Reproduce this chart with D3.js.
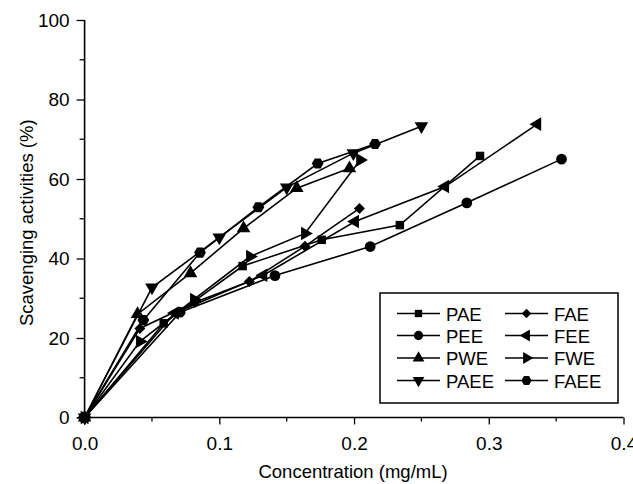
<!DOCTYPE html>
<html>
<head>
<meta charset="utf-8">
<script src="https://cdn.jsdelivr.net/npm/d3@7"></script>
<style>
  body { margin: 0; background: #fff; }
  text { font-family: "Liberation Sans", Arial, sans-serif; fill: #000; }
</style>
</head>
<body>
<script>
// data: [concentration mg/mL, scavenging %]
var PAE  = [[0,0],[0.0587,23.7],[0.1173,38.1],[0.176,44.7],[0.234,48.4],[0.2935,65.8]];
var PEE  = [[0,0],[0.0709,26.5],[0.1413,35.7],[0.212,43.0],[0.2837,54.0],[0.354,65.0]];
var PWE  = [[0,0],[0.0393,26.0],[0.0786,36.3],[0.118,47.6],[0.1575,57.7],[0.1966,62.7]];
var PAEE = [[0,0],[0.05,32.7],[0.1,45.3],[0.15,57.9],[0.1995,66.5],[0.25,73.3]];
var FAE  = [[0,0],[0.041,22.4],[0.082,29.0],[0.1223,34.2],[0.1636,43.1],[0.204,52.6]];
var FEE  = [[0,0],[0.067,26.3],[0.1327,35.8],[0.2007,49.3],[0.2676,58.1],[0.336,73.8]];
var FWE  = [[0,0],[0.041,19.1],[0.0812,29.7],[0.1228,40.5],[0.1636,46.3],[0.2045,64.8]];
var FAEE = [[0,0],[0.0436,24.5],[0.0857,41.5],[0.129,52.9],[0.173,63.9],[0.2156,68.8]];

var names = ['PAE','PEE','PWE','PAEE','FAE','FEE','FWE','FAEE'];
var seriesData = [PAE, PEE, PWE, PAEE, FAE, FEE, FWE, FAEE];
var xTicks = [0, 0.1, 0.2, 0.3, 0.4];
var yTicks = [0, 20, 40, 60, 80, 100];

var W = 633, H = 484;
var svg = d3.select('body').append('svg')
    .attr('width', W)
    .attr('height', H);

var x = d3.scaleLinear().domain([0, 0.4]).range([84.6, 623.5]);
var y = d3.scaleLinear().domain([0, 100]).range([417.5, 20]);

// marker shapes
var hexagon = {
  draw: function(ctx, size) {
    var r = Math.sqrt(size / (1.5 * Math.sqrt(3)));
    for (var i = 0; i < 6; i++) {
      var a = Math.PI / 3 * i;
      var px = r * Math.cos(a), py = r * Math.sin(a);
      if (i === 0) ctx.moveTo(px, py); else ctx.lineTo(px, py);
    }
    ctx.closePath();
  }
};
var markers = [
  {type: d3.symbolSquare,   size: 72,  rot: 0},
  {type: d3.symbolCircle,   size: 90,  rot: 0},
  {type: d3.symbolTriangle, size: 80,  rot: 0},
  {type: d3.symbolTriangle, size: 80,  rot: 180},
  {type: d3.symbolSquare,   size: 60,  rot: 45},
  {type: d3.symbolTriangle, size: 80,  rot: -90},
  {type: d3.symbolTriangle, size: 80,  rot: 90},
  {type: hexagon,           size: 90,  rot: 0}
];

// axes
var xAxis = d3.axisBottom(x).tickValues(xTicks).tickSize(7).tickPadding(12)
    .tickFormat(d3.format('.1f'));
var yAxis = d3.axisLeft(y).tickValues(yTicks).tickSize(8).tickPadding(7)
    .tickFormat(d3.format('d'));

var gx = svg.append('g').attr('transform', 'translate(0,' + y(0) + ')');
gx.append('g').selectAll('line')
    .data(d3.range(0.05, 0.4, 0.1))
    .enter().append('line')
    .attr('x1', function(d){ return x(d); })
    .attr('x2', function(d){ return x(d); })
    .attr('y1', 0).attr('y2', 4)
    .attr('stroke', '#000').attr('stroke-width', 1.3);
gx.call(xAxis);

var gy = svg.append('g').attr('transform', 'translate(' + x(0) + ',0)');
gy.append('g').selectAll('line')
    .data(d3.range(10, 100, 20))
    .enter().append('line')
    .attr('y1', function(d){ return y(d); })
    .attr('y2', function(d){ return y(d); })
    .attr('x1', 0).attr('x2', -5)
    .attr('stroke', '#000').attr('stroke-width', 1.3);
gy.call(yAxis);

svg.selectAll('.domain').attr('stroke', '#000').attr('stroke-width', 1.6)
    .attr('d', function() {
      return this.parentNode === gx.node()
        ? 'M' + x(0) + ',0H' + x(0.4)
        : 'M0,' + y(0) + 'V' + y(100);
    });
svg.selectAll('.tick line').attr('stroke', '#000').attr('stroke-width', 1.3);
svg.selectAll('.tick text').style('font-size', '19px');

svg.append('text')
    .attr('x', (x(0) + x(0.4)) / 2 - 1).attr('y', 478)
    .attr('text-anchor', 'middle')
    .style('font-size', '18.5px')
    .text('Concentration (mg/mL)');

svg.append('text')
    .attr('transform', 'translate(33,' + y(49) + ') rotate(-90)')
    .attr('text-anchor', 'middle')
    .style('font-size', '18.5px')
    .text('Scavenging activities (%)');

// series
var line = d3.line()
    .x(function(d){ return x(d[0]); })
    .y(function(d){ return y(d[1]); });

seriesData.forEach(function(data, i) {
  svg.append('path')
      .datum(data)
      .attr('d', line)
      .attr('fill', 'none')
      .attr('stroke', '#000')
      .attr('stroke-width', 1.6);
});

seriesData.forEach(function(data, i) {
  var m = markers[i];
  svg.append('g').selectAll('path')
      .data(data)
      .enter().append('path')
      .attr('d', d3.symbol().type(m.type).size(m.size))
      .attr('transform', function(d){
        return 'translate(' + x(d[0]) + ',' + y(d[1]) + ') rotate(' + m.rot + ')';
      })
      .attr('fill', '#000');
});

// legend
var legend = svg.append('g');
legend.append('rect')
    .attr('x', 380).attr('y', 293)
    .attr('width', 238).attr('height', 110)
    .attr('fill', '#fff')
    .attr('stroke', '#000').attr('stroke-width', 1.5);

var rowY = [313.5, 335.5, 358, 380.5];
names.forEach(function(name, i) {
  var col = Math.floor(i / 4), row = i % 4;
  var lx = col === 0 ? 397 : 505;
  var cy = rowY[row];
  var g = legend.append('g');
  g.append('line')
      .attr('x1', lx).attr('x2', lx + 43)
      .attr('y1', cy).attr('y2', cy)
      .attr('stroke', '#000').attr('stroke-width', 1.6);
  var m = markers[i];
  g.append('path')
      .attr('d', d3.symbol().type(m.type).size(m.size * 0.75))
      .attr('transform', 'translate(' + (lx + 21.5) + ',' + cy + ') rotate(' + m.rot + ')')
      .attr('fill', '#000');
  g.append('text')
      .attr('x', lx + 49).attr('y', cy + 7)
      .style('font-size', '18.5px')
      .text(name);
});
</script>
</body>
</html>
